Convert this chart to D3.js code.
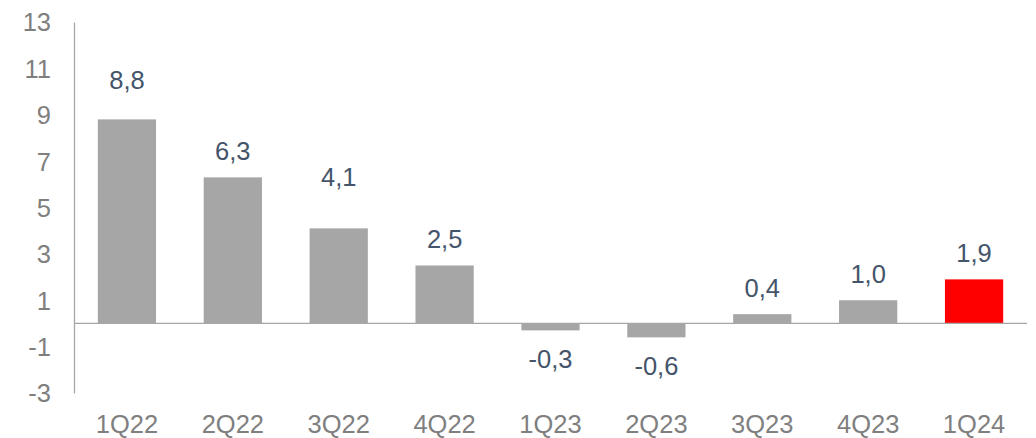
<!DOCTYPE html>
<html>
<head>
<meta charset="utf-8">
<script src="https://cdn.jsdelivr.net/npm/d3@7"></script>
<style>
  body { margin: 0; background: #fff; }
  svg text { font-family: "Liberation Sans", Arial, sans-serif; }
</style>
</head>
<body>
<div id="chart"></div>
<script>
// chart data
var quarters = ["1Q22", "2Q22", "3Q22", "4Q22", "1Q23", "2Q23", "3Q23", "4Q23", "1Q24"];
var values = [8.8, 6.3, 4.1, 2.5, -0.3, -0.6, 0.4, 1.0, 1.9];
var yTicks = [-3, -1, 1, 3, 5, 7, 9, 11, 13];
var highlight = "1Q24";

// a few labels were nudged up by hand in the original
var labelNudge = { "1Q22": 13, "3Q22": 25 };

var svgWidth = 1036;
var svgHeight = 438;

var margin = { top: 22, right: 9, bottom: 45, left: 74 };
var width = svgWidth - margin.left - margin.right;
var height = svgHeight - margin.top - margin.bottom;

var data = quarters.map((q, i) => ({ q: q, v: values[i] }));

var svg = d3.select("#chart")
  .append("svg")
  .attr("width", svgWidth)
  .attr("height", svgHeight);

var chartGroup = svg.append("g")
  .attr("transform", `translate(${margin.left}, ${margin.top})`);

var x = d3.scaleBand()
  .domain(quarters)
  .range([0, width])
  .paddingInner(0.45)
  .paddingOuter(0.225);

var y = d3.scaleLinear()
  .domain([-3, 13])
  .range([height, 0]);

// y axis: line + tick labels only
var leftAxis = d3.axisLeft(y)
  .tickValues(yTicks)
  .tickSize(0)
  .tickPadding(23)
  .tickFormat(d => String(d));

var yAxis = chartGroup.append("g").call(leftAxis);
yAxis.select(".domain").attr("stroke", "#a6a6a6").attr("stroke-width", 1.3);
yAxis.selectAll("text")
  .attr("fill", "#7f7f7f")
  .attr("font-size", "25.5px")
  .attr("dy", "0.35em");

// bars
chartGroup.selectAll(".bar")
  .data(data)
  .enter()
  .append("rect")
  .attr("class", "bar")
  .attr("x", d => x(d.q))
  .attr("width", x.bandwidth())
  .attr("y", d => y(Math.max(0, d.v)))
  .attr("height", d => Math.abs(y(d.v) - y(0)))
  .attr("fill", d => d.q === highlight ? "#ff0000" : "#a6a6a6");

// zero line
chartGroup.append("line")
  .attr("x1", 0)
  .attr("x2", width)
  .attr("y1", y(0))
  .attr("y2", y(0))
  .attr("stroke", "#a6a6a6")
  .attr("stroke-width", 1.3);

// value labels
var fmt = v => v.toFixed(1).replace(".", ",");
chartGroup.selectAll(".val")
  .data(data)
  .enter()
  .append("text")
  .attr("class", "val")
  .attr("x", d => x(d.q) + x.bandwidth() / 2)
  .attr("y", d => d.v >= 0 ? y(d.v) - 17 - (labelNudge[d.q] || 0) : y(d.v) + 38)
  .attr("text-anchor", "middle")
  .attr("font-size", "25.5px")
  .attr("fill", "#44546a")
  .text(d => fmt(d.v));

// category labels
chartGroup.selectAll(".cat")
  .data(data)
  .enter()
  .append("text")
  .attr("class", "cat")
  .attr("x", d => x(d.q) + x.bandwidth() / 2)
  .attr("y", height + 40)
  .attr("text-anchor", "middle")
  .attr("font-size", "25.5px")
  .attr("fill", "#7f7f7f")
  .text(d => d.q);
</script>
</body>
</html>
